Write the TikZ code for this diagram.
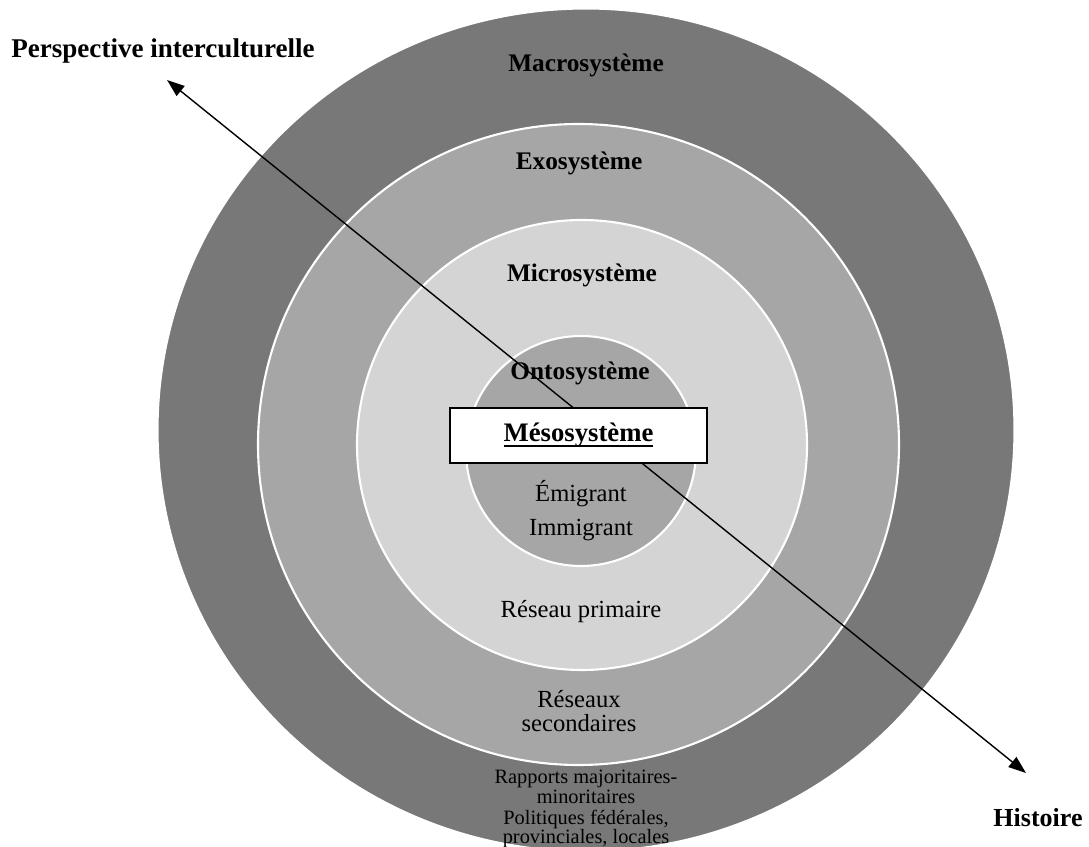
\documentclass[tikz,border=0pt]{standalone}
\usepackage{amsmath}
\usepackage{fontspec}
\setmainfont{Liberation Serif}
\usepackage{tikz}
\usetikzlibrary{positioning,arrows.meta,shapes.geometric}

\begin{document}
\begin{tikzpicture}[
    ringnode/.style={circle, draw=white, line width=0.6pt, inner sep=0pt},
    headlabel/.style={font=\fontsize{7.2}{8}\selectfont\bfseries, inner sep=0pt, anchor=base},
    textlabel/.style={font=\fontsize{7}{8}\selectfont, inner sep=0pt, anchor=base},
    smalllabel/.style={font=\fontsize{5.8}{6}\selectfont, inner sep=0pt, anchor=base},
    mesobox/.style={rectangle, draw=black, fill=white, line width=0.45pt, minimum width=2.57cm, minimum height=0.55cm}
    ]
        \clip (0,0) rectangle (10.89,-8.47);

        %Circles
        \node[ringnode, ellipse, fill=black!53, minimum width=8.57cm, minimum height=8.43cm]
            (macro) at (5.86,-4.30) {};
        \node[ringnode, fill=black!35, minimum size=6.41cm]
            (exo)   at (5.785,-4.445) {};
        \node[ringnode, fill=black!17, minimum size=4.50cm]
            (micro) at (5.82,-4.45) {};
        \node[ringnode, fill=black!35, minimum size=2.30cm]
            (onto)  at (5.81,-4.51) {};

        %Labels
        \node[headlabel] (persp)  at (1.63,-0.58) {\fontsize{7.7}{8}\selectfont Perspective interculturelle};
        \node[headlabel] (hist)   at (10.38,-8.26) {\fontsize{7.4}{8}\selectfont Histoire};
        \node[headlabel] (macrot) at (5.86,-0.72) {Macrosystème};
        \node[headlabel] (exot)   at (5.79,-1.70) {Exosystème};
        \node[headlabel] (microt) at (5.82,-2.82) {Microsystème};
        \node[headlabel] (ontot)  at (5.80,-3.80) {Ontosystème};
        \node[textlabel] (emig)   at (5.81,-5.02) {Émigrant};
        \node[textlabel] (immig)  at (5.81,-5.36) {Immigrant};
        \node[textlabel] (prim)   at (5.81,-6.17) {Réseau primaire};
        \node[textlabel] (sec1)   at (5.79,-7.07) {Réseaux};
        \node[textlabel] (sec2)   at (5.79,-7.31) {secondaires};
        \node[smalllabel] (rap1)  at (5.86,-7.83) {Rapports majoritaires-};
        \node[smalllabel] (rap2)  at (5.86,-8.03) {minoritaires};
        \node[smalllabel] (rap3)  at (5.86,-8.24) {Politiques fédérales,};
        \node[smalllabel] (rap4)  at (5.86,-8.43) {provinciales, locales};

        %Arrow
        \coordinate (ptip) at (1.67,-0.80);
        \coordinate (htip) at (10.26,-7.73);
        \draw[{Triangle[length=5pt,width=3.6pt]}-{Triangle[length=5pt,width=3.6pt]}, line width=0.4pt]
            (ptip) -- (htip);

        %Box
        \node[mesobox, font=\fontsize{7.6}{8}\selectfont\bfseries]
            (meso) at (5.785,-4.355) {\underline{\smash[b]{Mésosystème}}};
    \end{tikzpicture}
\end{document}
